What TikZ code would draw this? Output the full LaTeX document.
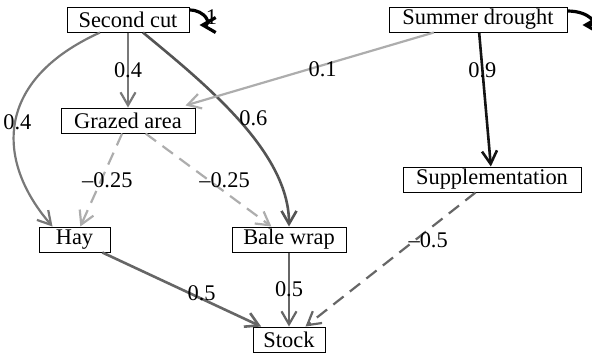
\documentclass[tikz,border=0pt]{standalone}
\usepackage{fontspec}
\setmainfont{Liberation Serif}
\usetikzlibrary{arrows.meta}
\definecolor{gA}{gray}{0.47}
\definecolor{gB}{gray}{0.33}
\definecolor{gC}{gray}{0.68}
\definecolor{gD}{gray}{0.40}
\definecolor{gE}{gray}{0.08}
\begin{document}
\begin{tikzpicture}[x=0.5pt,y=-0.5pt,
  box/.style={draw,line width=0.5pt,inner sep=0pt,minimum height=12.5pt,font=\rmfamily\fontsize{11.2}{13}\selectfont},
  lbl/.style={font=\rmfamily\fontsize{11.2}{13}\selectfont,inner sep=1pt,text=black},
  arr/.style={-{Straight Barb[length=6.5pt,width=7.5pt]},line width=1.1pt},
  dsh/.style={dash pattern=on 6.5pt off 4pt},
  selfloop/.style={-{Straight Barb[length=6.5pt,width=7.5pt]},line width=1.6pt,black}]
\useasboundingbox (0,0) rectangle (592,355);
\clip (0,0) rectangle (592,355);
\node[box,minimum width=61pt] (sc) at (128,19.5) {Second cut};
\node[box,minimum width=89pt] (sd) at (478,19.5) {Summer drought};
\node[box,minimum width=67pt] (ga) at (128,120.5) {Grazed area};
\node[box,minimum width=89pt] (sp) at (492,179.5) {Supplementation};
\node[box,minimum width=35.5pt] (hay) at (74.5,239.5) {Hay};
\node[box,minimum width=57pt] (bw) at (289,239.5) {Bale wrap};
\node[box,minimum width=36pt] (st) at (289,339.5) {Stock};
% edges
\draw[arr,gA] (sc) -- (ga) node[lbl,pos=0.5]{0.4};
\draw[arr,gA] ([xshift=-14pt]sc.south) .. controls (-5,80) and (-5,160) .. ([xshift=-11pt]hay.north) node[lbl,pos=0.5,xshift=1pt]{0.4};
\draw[arr,gB,line width=1.3pt] ([xshift=7.5pt]sc.south) .. controls (200,80) and (289,150) .. (bw.north) node[lbl,pos=0.5,xshift=8pt]{0.6};
\draw[arr,gC] (sd) -- ([xshift=-5pt,yshift=1pt]ga.north east) node[lbl,pos=0.5,xshift=6.5pt]{0.1};
\draw[arr,gE,line width=1.3pt] (sd) -- (sp) node[lbl,pos=0.28]{0.9};
\draw[arr,gC,dsh] (ga) -- (hay) node[lbl,pos=0.5,xshift=3pt]{\textendash0.25};
\draw[arr,gC,dsh] (ga) -- (bw) node[lbl,pos=0.5,xshift=8pt]{\textendash0.25};
\draw[arr,gD,dsh] (sp) -- (st) node[lbl,pos=0.355,xshift=6.5pt]{\textendash0.5};
\draw[arr,gD,line width=1.3pt] (hay) -- (st) node[lbl,pos=0.6,xshift=2pt,yshift=2pt]{0.5};
\draw[arr,gD] (bw) -- (st) node[lbl,pos=0.5]{0.5};
% self loops
\draw[selfloop] ([yshift=4.75pt]sc.east) .. controls +(16,0) and +(13,0) .. ([xshift=5pt,yshift=-2.75pt]sc.east) node[lbl,pos=0.5,xshift=3pt]{1};
\draw[selfloop] ([yshift=4.25pt]sd.east) .. controls +(22,0) and +(18,0) .. ([xshift=7.5pt,yshift=-2.75pt]sd.east);
\end{tikzpicture}
\end{document}
